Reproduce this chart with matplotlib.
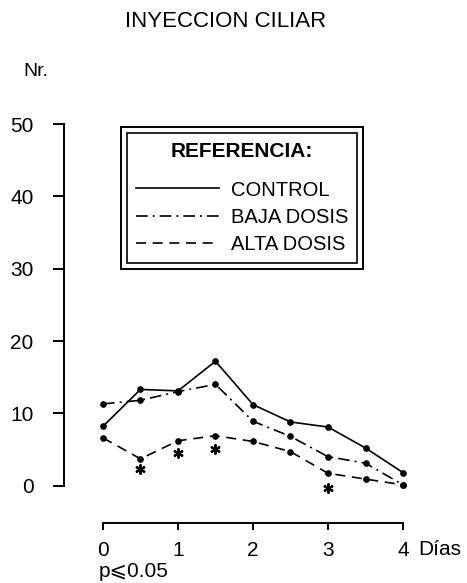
import matplotlib
matplotlib.use("Agg")
import matplotlib.pyplot as plt
from matplotlib.lines import Line2D
from matplotlib.patches import Rectangle

plt.rcParams['font.family'] = ['Liberation Sans', 'DejaVu Sans']

# days and counts
dias = [0, 0.5, 1, 1.5, 2, 2.5, 3, 3.5, 4]
control = [8.2, 13.3, 13.1, 17.2, 11.2, 8.8, 8.1, 5.2, 1.8]
baja = [11.3, 11.8, 13.0, 14.0, 8.9, 6.8, 4.0, 3.1, 0.1]
alta = [6.6, 3.7, 6.2, 6.9, 6.1, 4.7, 1.7, 0.9, 0.1]
# significance marks (p <= 0.05)
sig_dias = [0.5, 1, 1.5, 3]
sig_y = [2.3, 4.5, 5.1, -0.3]

y_ticks = [0, 10, 20, 30, 40, 50]
x_ticks = [0, 1, 2, 3, 4]

fig = plt.figure(figsize=(4.67, 5.83), dpi=100)
ax = fig.add_axes([0.137, 0.1026, 0.734, 0.6907])
ax.set_xlim(-0.52, 4.05)
ax.set_ylim(-5.2, 50.5)

dashdot = (0, (7, 3, 1.2, 3))
dashed = (0, (6, 4))
lw = 1.2
ax.plot(dias, control, color='black', lw=lw, ls='-', marker='o', ms=3.8)
ax.plot(dias, baja, color='black', lw=lw, ls=dashdot, marker='o', ms=3.8)
ax.plot(dias, alta, color='black', lw=lw, ls=dashed, marker='o', ms=3.8)
ax.scatter(sig_dias, sig_y, marker=(6, 2, 0), s=38, color='black', lw=1.6)

# detached axes
for s in ['top', 'right']:
    ax.spines[s].set_visible(False)
ax.spines['left'].set_position(('data', -0.52))
ax.spines['left'].set_bounds(0, 50)
ax.spines['bottom'].set_position(('data', -5.2))
ax.spines['bottom'].set_bounds(0, 4)
ax.spines['left'].set_linewidth(1.4)
ax.spines['bottom'].set_linewidth(1.4)

ax.set_yticks(y_ticks)
ax.set_xticks(x_ticks)
ax.tick_params(axis='y', length=8, width=1.4, pad=14, labelsize=15)
ax.tick_params(axis='x', length=5, width=1.4, pad=8, labelsize=15)

fig.text(0.483, 0.963, 'INYECCION CILIAR', ha='center', va='center', fontsize=16)
fig.text(0.049, 0.877, 'Nr.', ha='left', va='center', fontsize=14)
fig.text(0.895, 0.058, 'Días', ha='left', va='center', fontsize=15)
fig.text(0.212, 0.019, 'p\u2a7d0.05', ha='left', va='center', fontsize=15)

handles = [
    Line2D([], [], color='black', lw=lw, ls='-'),
    Line2D([], [], color='black', lw=lw, ls=dashdot),
    Line2D([], [], color='black', lw=lw, ls=dashed),
]
leg = ax.legend(handles, ['CONTROL', 'BAJA DOSIS', 'ALTA DOSIS'],
                title='REFERENCIA:', loc='upper left',
                bbox_to_anchor=(127 / 467, 1 - 133 / 583),
                bbox_transform=fig.transFigure, borderaxespad=0,
                fontsize=14.5, title_fontproperties={'weight': 'bold', 'size': 15},
                handlelength=4.1, handletextpad=0.6, labelspacing=0.42,
                fancybox=False, framealpha=1, edgecolor='black',
                borderpad=0.45)
leg.get_frame().set_linewidth(1.2)
leg._legend_box.sep = 14

fig.canvas.draw()
bb = leg.get_window_extent().transformed(fig.transFigure.inverted())
px, py = 6 / 467, 6 / 583
fig.patches.append(Rectangle((bb.x0 - px, bb.y0 - py), bb.width + 2 * px,
                             bb.height + 2 * py, transform=fig.transFigure,
                             fill=False, ec='black', lw=1.4))

fig.savefig('out.png', dpi=100)
